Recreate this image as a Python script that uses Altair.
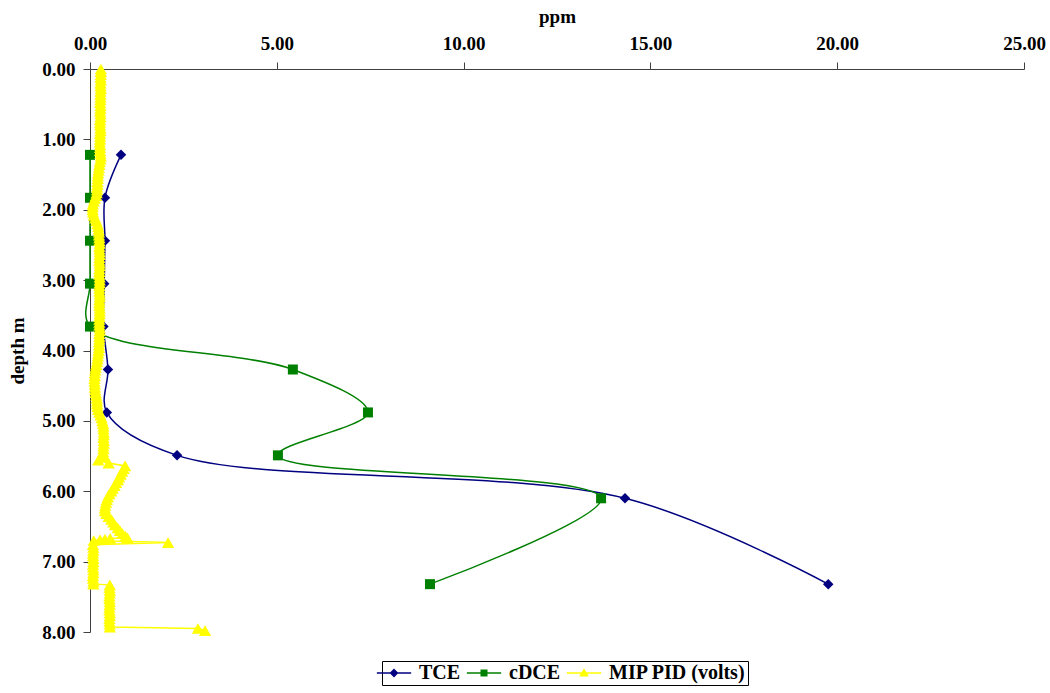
import altair as alt
import pandas as pd

# ---- series definitions -------------------------------------------------
SERIES = ["TCE", "cDCE", "MIP PID (volts)"]
COLORS = ["#000080", "#008000", "#FFFF00"]

# laboratory samples (depth in m, concentration in ppm)
sample_depth = [1.22, 1.83, 2.44, 3.05, 3.66, 4.27, 4.88, 5.49, 6.10, 7.32]
tce_ppm = [0.83, 0.40, 0.40, 0.38, 0.36, 0.48, 0.45, 2.33, 14.32, 19.76]
cdce_ppm = [0.00, 0.00, 0.00, 0.00, 0.00, 5.43, 7.44, 5.03, 13.68, 9.10]

# MIP log: PID detector response (volts) against depth (m)
mip_depth = [
    0.00, 0.04, 0.08, 0.12, 0.16, 0.20, 0.24, 0.28, 0.32, 0.36,
    0.40, 0.44, 0.48, 0.52, 0.56, 0.60, 0.64, 0.68, 0.72, 0.76,
    0.80, 0.84, 0.88, 0.92, 0.96, 1.00, 1.04, 1.08, 1.12, 1.16,
    1.20, 1.24, 1.28, 1.32, 1.36, 1.40, 1.44, 1.48, 1.52, 1.56,
    1.60, 1.64, 1.68, 1.72, 1.76, 1.80, 1.84, 1.88, 1.92, 1.96,
    2.00, 2.04, 2.08, 2.12, 2.16, 2.20, 2.24, 2.28, 2.32, 2.36,
    2.40, 2.44, 2.48, 2.52, 2.56, 2.60, 2.64, 2.68, 2.72, 2.76,
    2.80, 2.84, 2.88, 2.92, 2.96, 3.00, 3.04, 3.08, 3.12, 3.16,
    3.20, 3.24, 3.28, 3.32, 3.36, 3.40, 3.44, 3.48, 3.52, 3.56,
    3.60, 3.64, 3.68, 3.72, 3.76, 3.80, 3.84, 3.88, 3.92, 3.96,
    4.00, 4.04, 4.08, 4.12, 4.16, 4.20, 4.24, 4.28, 4.32, 4.36,
    4.40, 4.44, 4.48, 4.52, 4.56, 4.60, 4.64, 4.68, 4.72, 4.76,
    4.80, 4.84, 4.88, 4.92, 4.96, 5.00, 5.04, 5.08, 5.12, 5.16,
    5.20, 5.24, 5.28, 5.32, 5.36, 5.40, 5.44, 5.48, 5.52, 5.56,
    5.60,
    5.64, 5.68, 5.72, 5.76, 5.80, 5.84, 5.88, 5.92, 5.96, 6.00,
    6.04, 6.08, 6.12, 6.16, 6.20, 6.24, 6.28, 6.32, 6.36, 6.40,
    6.44, 6.48, 6.52, 6.56, 6.60, 6.64, 6.66,
    6.67, 6.68, 6.69, 6.70, 6.73,
    6.76, 6.80, 6.84, 6.88, 6.92, 6.96, 7.00, 7.04, 7.08, 7.12,
    7.16, 7.20, 7.24, 7.28, 7.32,
    7.33, 7.37, 7.41, 7.45, 7.49, 7.53, 7.57, 7.61, 7.65, 7.69,
    7.73, 7.77, 7.81, 7.85, 7.89, 7.93,
    7.95, 7.98,
]
mip_volts = [
    0.29, 0.29, 0.29, 0.28, 0.29, 0.28, 0.28, 0.29, 0.28, 0.28,
    0.28, 0.28, 0.27, 0.28, 0.28, 0.27, 0.28, 0.28, 0.27, 0.27,
    0.27, 0.28, 0.28, 0.27, 0.27, 0.27, 0.26, 0.27, 0.27, 0.27,
    0.28, 0.29, 0.28, 0.26, 0.25, 0.24, 0.23, 0.22, 0.21, 0.21,
    0.20, 0.20, 0.19, 0.19, 0.18, 0.16, 0.13, 0.10, 0.08, 0.07,
    0.07, 0.08, 0.10, 0.14, 0.17, 0.20, 0.22, 0.23, 0.24, 0.24,
    0.25, 0.25, 0.26, 0.25, 0.25, 0.26, 0.26, 0.25, 0.25, 0.26,
    0.26, 0.25, 0.25, 0.25, 0.26, 0.26, 0.26, 0.25, 0.25, 0.25,
    0.26, 0.26, 0.25, 0.25, 0.25, 0.26, 0.26, 0.26, 0.25, 0.25,
    0.25, 0.25, 0.26, 0.26, 0.25, 0.25, 0.25, 0.24, 0.24, 0.24,
    0.23, 0.22, 0.21, 0.20, 0.19, 0.17, 0.15, 0.14, 0.13, 0.13,
    0.12, 0.12, 0.13, 0.13, 0.14, 0.15, 0.17, 0.18, 0.19, 0.19,
    0.20, 0.22, 0.25, 0.28, 0.31, 0.33, 0.35, 0.36, 0.36, 0.37,
    0.37, 0.36, 0.37, 0.37, 0.36, 0.36, 0.35, 0.36, 0.34, 0.22,
    0.50,
    0.94, 0.90, 0.86, 0.82, 0.78, 0.75, 0.70, 0.66, 0.61, 0.57,
    0.52, 0.48, 0.45, 0.43, 0.41, 0.40, 0.40, 0.44, 0.50, 0.57,
    0.62, 0.67, 0.74, 0.80, 0.87, 0.95, 1.00,
    0.54, 0.40, 0.27, 0.10, 2.09,
    0.08, 0.09, 0.09, 0.08, 0.08, 0.09, 0.09, 0.08, 0.08, 0.09,
    0.09, 0.08, 0.08, 0.09, 0.09,
    0.53, 0.52, 0.53, 0.53, 0.52, 0.52, 0.53, 0.53, 0.52, 0.52,
    0.53, 0.53, 0.52, 0.52, 0.53, 0.53,
    2.89, 3.08,
]

# legend glyphs: a short line segment with the series marker on it
LEGEND_GLYPHS = [
    "M-2.45,-0.11H2.45V0.11H-2.45Z M0,-0.63L0.63,0L0,0.63L-0.63,0Z",
    "M-2.45,-0.11H2.45V0.11H-2.45Z M-0.5,-0.5H0.5V0.5H-0.5Z",
    "M-2.45,-0.11H2.45V0.11H-2.45Z M0,-0.68L0.7,0.5L-0.7,0.5Z",
]

FONT = "Liberation Serif"

tce_df = pd.DataFrame({"depth": sample_depth, "ppm": tce_ppm})
cdce_df = pd.DataFrame({"depth": sample_depth, "ppm": cdce_ppm})
mip_df = pd.DataFrame({"depth": mip_depth, "ppm": mip_volts})
mip_df["idx"] = range(len(mip_df))

x_enc = alt.X(
    "ppm:Q",
    scale=alt.Scale(domain=[0, 25], nice=False, zero=False),
    axis=alt.Axis(
        orient="top", title="ppm", values=[0, 5, 10, 15, 20, 25],
        format=".2f", labelFlush=False, labelPadding=9, titlePadding=8,
    ),
)
y_enc = alt.Y(
    "depth:Q",
    scale=alt.Scale(domain=[0, 8], reverse=True, nice=False, zero=False),
    axis=alt.Axis(
        title="depth m", values=list(range(9)), format=".2f",
        labelPadding=8, titlePadding=14,
    ),
)


def series_layers(df, color, shape, size, smooth, order_field):
    line = alt.Chart(df).mark_line(
        color=color, strokeWidth=1.5, clip=False,
        interpolate="catmull-rom" if smooth else "linear",
    ).encode(x=x_enc, y=y_enc, order=alt.Order(order_field))
    pts = alt.Chart(df).mark_point(
        filled=True, shape=shape, size=size, color=color, opacity=1, clip=False,
    ).encode(x=x_enc, y=y_enc)
    return [line, pts]


leg = alt.Legend(
    title=None, orient="none", legendX=292, legendY=592,
    direction="horizontal", symbolSize=196, symbolStrokeWidth=0,
    labelFont=FONT, labelFontWeight="bold", labelFontSize=20,
    labelColor="black", labelOffset=15, columnPadding=5, padding=2,
    strokeColor="black", fillColor="white",
)

legend_layer = (
    alt.Chart(pd.DataFrame({"series": SERIES}))
    .transform_filter("false")
    .mark_point(filled=True, opacity=1)
    .encode(
        color=alt.Color("series:N", scale=alt.Scale(domain=SERIES, range=COLORS), legend=leg),
        shape=alt.Shape("series:N", scale=alt.Scale(domain=SERIES, range=LEGEND_GLYPHS), legend=leg),
    )
)

layers = (
    series_layers(tce_df, COLORS[0], "diamond", 110, True, "depth:Q")
    + series_layers(cdce_df, COLORS[1], "square", 100, True, "depth:Q")
    + series_layers(mip_df, COLORS[2], "triangle-up", 150, False, "idx:Q")
    + [legend_layer]
)

chart = (
    alt.layer(*layers)
    .properties(
        width=934, height=563,
        autosize=alt.AutoSizeParams(type="none"),
        padding={"left": 90, "top": 69, "right": 26, "bottom": 61},
    )
    .configure_view(stroke=None)
    .configure_axis(
        grid=False,
        labelFont=FONT, labelFontWeight="bold", labelFontSize=19, labelColor="black",
        titleFont=FONT, titleFontWeight="bold", titleFontSize=19, titleColor="black",
        domainColor="#404040", tickColor="#404040", tickSize=7, domainWidth=1, tickWidth=1,
    )
)

chart.save("out.html", embed_options={"renderer": "svg", "actions": False})
